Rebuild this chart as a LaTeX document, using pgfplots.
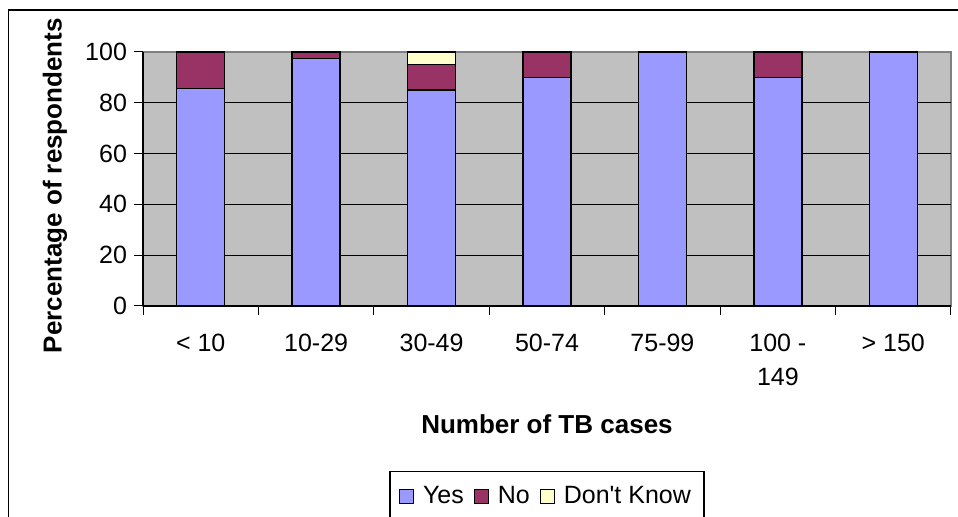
\documentclass[border=0pt]{standalone}
\usepackage{fontspec}
\setmainfont{Liberation Sans}
\usepackage{pgfplots}
\pgfplotsset{compat=1.18}
\definecolor{yescol}{HTML}{9999FF}
\definecolor{nocol}{HTML}{993366}
\definecolor{dkcol}{HTML}{FFFFCC}
\definecolor{plotbg}{HTML}{C0C0C0}
\definecolor{plotborder}{HTML}{808080}
\begin{document}
\begin{tikzpicture}
\useasboundingbox (0,0) rectangle (479pt,258.5pt);
% outer chart frame (bottom and right run off the page)
\draw[line width=0.6pt] (4.15pt,-3pt) -- (4.15pt,253.5pt) -- (483pt,253.5pt);
\begin{axis}[
at={(71.5pt,105.5pt)}, anchor=south west,
scale only axis, width=404pt, height=127pt,
ybar stacked, bar width=24pt,
xmin=-0.5, xmax=6.5, ymin=0, ymax=100,
axis x line*=bottom, axis y line*=left,
axis line style={black, line width=0.6pt},
axis background/.style={fill=plotbg, draw=plotborder, line width=0.6pt},
xtick={-0.5,0.5,...,6.5},
x tick label as interval,
xticklabels={< 10,10-29,30-49,50-74,75-99,{100 -\\149},> 150},
ytick={0,20,40,60,80},
extra y ticks={100},
extra y tick style={grid=none},
ymajorgrids,
y grid style={black, line width=0.5pt},
tick align=outside,
major tick length=4.5pt,
tick style={black, line width=0.5pt},
/pgf/number format/assume math mode=true,
ticklabel style={font=\fontsize{12.5}{17}\selectfont},
xticklabel style={align=center, yshift=-6pt},
xlabel={Number of TB cases},
ylabel={Percentage of respondents},
label style={font=\fontsize{13}{15}\selectfont\bfseries},
xlabel style={at={(axis description cs:0.5,-0.4646)}, anchor=center},
ylabel style={at={(axis description cs:-0.109,0.474)}, anchor=center},
legend columns=3,
legend style={at={(axis description cs:0.5,-0.650)}, anchor=north, draw=black, line width=0.6pt,
  font=\fontsize{12.5}{14}\selectfont, inner xsep=4.5pt, inner ysep=5.5pt,
  /tikz/every odd column/.append style={column sep=2.5pt},
  /tikz/every even column/.append style={column sep=3pt}},
legend image code/.code={\draw[#1,draw=black,line width=0.5pt] (0pt,-3.5pt) rectangle (7pt,3.5pt);},
]
\addplot[fill=yescol, draw=black, line width=0.7pt] coordinates {(0,85.7) (1,97.4) (2,85) (3,90) (4,100) (5,90) (6,100)};
\addlegendentry{Yes}
\addplot[fill=nocol, draw=black, line width=0.7pt] coordinates {(0,14.3) (1,2.6) (2,10) (3,10) (4,0) (5,10) (6,0)};
\addlegendentry{No}
\addplot[fill=dkcol, draw=black, line width=0.7pt] coordinates {(0,0) (1,0) (2,5) (3,0) (4,0) (5,0) (6,0)};
\addlegendentry{Don\textquotesingle t Know}
\end{axis}
\end{tikzpicture}
\end{document}
